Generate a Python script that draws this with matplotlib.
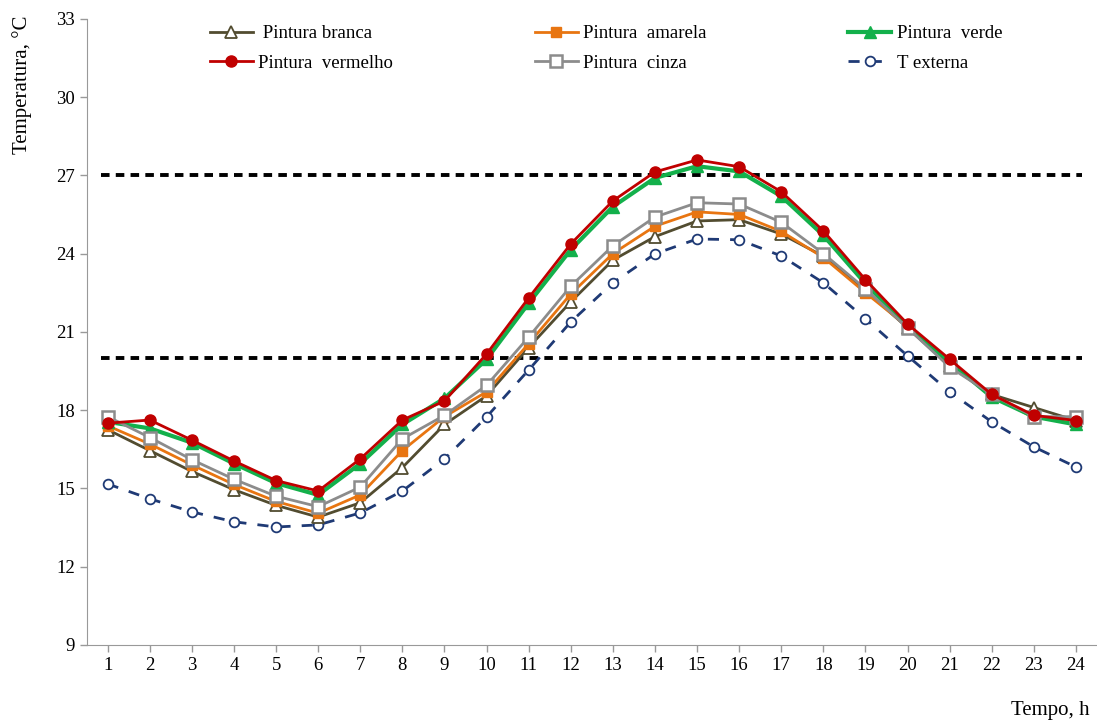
import numpy as np
import matplotlib.pyplot as plt

plt.rcParams['font.family'] = ['Liberation Serif', 'DejaVu Serif']

horas = list(range(1, 25))

branca = [17.25, 16.45, 15.65, 14.95, 14.35, 13.9, 14.45, 15.8, 17.45, 18.55, 20.4, 22.15,
          23.75, 24.65, 25.25, 25.3, 24.75, 23.9, 22.6, 21.15, 19.7, 18.6, 18.1, 17.6]
amarela = [17.4, 16.7, 15.9, 15.15, 14.5, 14.05, 14.75, 16.45, 17.75, 18.7, 20.55, 22.45,
           24.0, 25.05, 25.6, 25.5, 24.85, 23.85, 22.5, 21.2, 19.85, 18.6, 17.7, 17.65]
verde = [17.55, 17.3, 16.75, 15.95, 15.2, 14.75, 15.95, 17.45, 18.45, 19.95, 22.1, 24.15,
         25.8, 26.9, 27.35, 27.15, 26.2, 24.7, 22.85, 21.2, 19.85, 18.5, 17.75, 17.45]
vermelho = [17.5, 17.62, 16.85, 16.05, 15.3, 14.9, 16.13, 17.62, 18.35, 20.15, 22.3, 24.37,
            26.02, 27.13, 27.59, 27.33, 26.37, 24.87, 23.0, 21.3, 19.95, 18.6, 17.8, 17.6]
cinza = [17.75, 16.95, 16.1, 15.35, 14.7, 14.3, 15.05, 16.9, 17.8, 18.95, 20.8, 22.75,
         24.3, 25.4, 25.95, 25.9, 25.2, 24.0, 22.65, 21.15, 19.65, 18.6, 17.75, 17.75]
externa = [15.17, 14.6, 14.1, 13.72, 13.52, 13.6, 14.06, 14.9, 16.13, 17.74, 19.54, 21.38,
           22.88, 23.99, 24.56, 24.53, 23.91, 22.88, 21.5, 20.08, 18.7, 17.55, 16.59, 15.82]

limites = [27, 20]

fig = plt.figure(figsize=(10.97, 7.23), dpi=100)
ax = fig.add_axes([0.079, 0.108, 0.921, 0.866])

for y in limites:
    ax.plot([0.85, 24.15], [y, y], color='black', lw=2.8, ls=(0, (2.2, 1.6)), zorder=1)

l_branca, = ax.plot(horas, branca, color='#524C30', lw=2, marker='^', ms=8,
                    mfc='white', mec='#524C30', mew=1.3, label=' Pintura branca', zorder=3)
l_amarela, = ax.plot(horas, amarela, color='#E87511', lw=2, marker='s', ms=7,
                     mfc='#E87511', mec='#E87511', label='Pintura  amarela', zorder=3)
l_verde, = ax.plot(horas, verde, color='#13B04B', lw=3, marker='^', ms=9,
                   mfc='#13B04B', mec='#13B04B', label='Pintura  verde', zorder=3)
l_vermelho, = ax.plot(horas, vermelho, color='#C00000', lw=2, marker='o', ms=8,
                      mfc='#C00000', mec='#C00000', label='Pintura  vermelho', zorder=4)
l_cinza, = ax.plot(horas, cinza, color='#8C8C8C', lw=2, marker='s', ms=8,
                   mfc='white', mec='#8C8C8C', mew=1.8, label='Pintura  cinza', zorder=3)
l_externa, = ax.plot(horas, externa, color='#1F3A75', lw=2, ls=(0, (4, 4)), marker='o', ms=7,
                     mfc='white', mec='#1F3A75', mew=1.3, label='T externa', zorder=2)

ax.set_xlim(0.5, 24.5)
ax.set_ylim(9, 33)
ax.set_xticks(horas)
ax.set_yticks(np.arange(9, 34, 3))
ax.tick_params(labelsize=13.5, color='#999999', length=5, width=1)
for s in ['top', 'right']:
    ax.spines[s].set_visible(False)
for s in ['left', 'bottom']:
    ax.spines[s].set_color('#999999')

# y label pinned near the top-left corner, x label at the bottom right
fig.text(0.02, 0.979, 'Temperatura, °C', rotation=90, ha='center', va='top', fontsize=15)
ax.text(0.993, -0.104, 'Tempo, h', transform=ax.transAxes, ha='right', va='center',
        fontsize=15)

handles = [l_branca, l_vermelho, l_amarela, l_cinza, l_verde, l_externa]
ax.legend(handles=handles, labels=[h.get_label() for h in handles], ncol=3,
          loc='upper center', bbox_to_anchor=(0.514, 1.017), frameon=False, fontsize=13.5,
          columnspacing=7.54, handlelength=2.3, handletextpad=0.3, labelspacing=0.68)

fig.savefig('out.png', dpi=100)
